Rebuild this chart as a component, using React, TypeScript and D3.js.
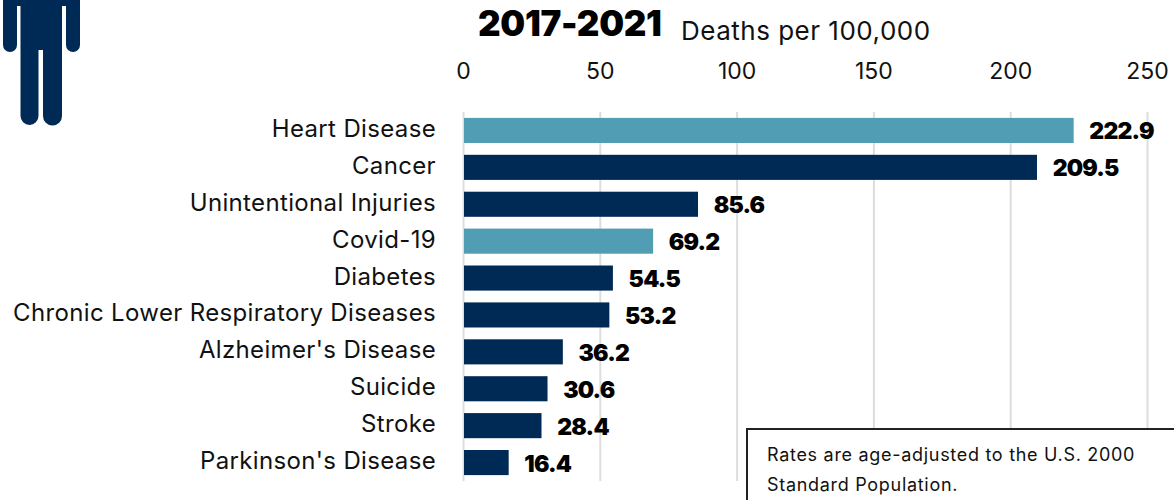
import React from "react";
import * as d3 from "d3";

const categories = [
  "Heart Disease",
  "Cancer",
  "Unintentional Injuries",
  "Covid-19",
  "Diabetes",
  "Chronic Lower Respiratory Diseases",
  "Alzheimer's Disease",
  "Suicide",
  "Stroke",
  "Parkinson's Disease",
];
const deathRates = [222.9, 209.5, 85.6, 69.2, 54.5, 53.2, 36.2, 30.6, 28.4, 16.4];
const highlighted = ["Heart Disease", "Covid-19"];
const xTicks = [0, 50, 100, 150, 200, 250];
const period = "2017-2021";
const unitLabel = "Deaths per 100,000";
const noteLines = ["Rates are age-adjusted to the U.S. 2000", "Standard Population."];

const NAVY = "#002a56";
const TEAL = "#519db3";
const FONT = "Inter, 'Noto Sans', sans-serif";

const x = d3.scaleLinear().domain([0, 250]).range([463.5, 1147.5]);
const y = d3.scaleBand().domain(categories).range([112, 481]).paddingInner(0.32).paddingOuter(0.16);

export default function App() {
  return (
    <svg
      width={1174}
      height={500}
      viewBox="0 0 1174 500"
      style={{ position: "absolute", left: 0, top: 0, background: "#fff", display: "block" }}
      fontFamily={FONT}
    >
      <defs>
        <filter id="soft" x="-5%" y="-5%" width="110%" height="110%">
          <feGaussianBlur stdDeviation="0.7" />
        </filter>
      </defs>

      {/* Standing figure, cropped at the top edge */}
      <g fill={NAVY} filter="url(#soft)">
        <path d="M3 -5 H80 V45 a7 7 0 0 1 -14 0 V6 H62 V116 a9.5 9.500 0 0 1 -19 0 V50 H38.500 V116 a9 9 0 0 1 -18 0 V6 H17 V45 a7 7 0 0 1 -14 0 Z" />
      </g>

      <text x={478} y={36} fontSize={35} fontWeight={900} letterSpacing={-0.3} fill="#000">{period}</text>
      <text x={681} y={40} fontSize={26} letterSpacing={0.5} fill="#111">{unitLabel}</text>

      {xTicks.map((t) => (
        <g key={t}>
          <line x1={x(t)} x2={x(t)} y1={112} y2={481} stroke="#dddddd" strokeWidth={2} />
          <text x={x(t)} y={79} fontSize={23} textAnchor="middle" fill="#111">{t}</text>
        </g>
      ))}

      {categories.map((c, i) => {
        const top = y(c) as number;
        const mid = top + y.bandwidth() / 2;
        return (
          <g key={c}>
            <rect
              x={x(0) + 0.5}
              y={top}
              width={x(deathRates[i]) - x(0) - 0.2}
              height={y.bandwidth()}
              fill={highlighted.includes(c) ? TEAL : NAVY}
            />
            <text x={436} y={mid + 6.5} fontSize={24} letterSpacing={0.35} textAnchor="end" fill="#111">{c}</text>
            <text x={x(deathRates[i]) + 16} y={mid + 9} fontSize={23} fontWeight={900} letterSpacing={-0.8} fill="#000">
              {deathRates[i].toFixed(1)}
            </text>
          </g>
        );
      })}

      <rect x={747} y={429} width={440} height={90} fill="#fff" stroke="#222" strokeWidth={2} />
      {noteLines.map((line, i) => (
        <text key={line} x={767} y={461 + i * 30} fontSize={18} letterSpacing={0.7} fill="#111">{line}</text>
      ))}
    </svg>
  );
}
